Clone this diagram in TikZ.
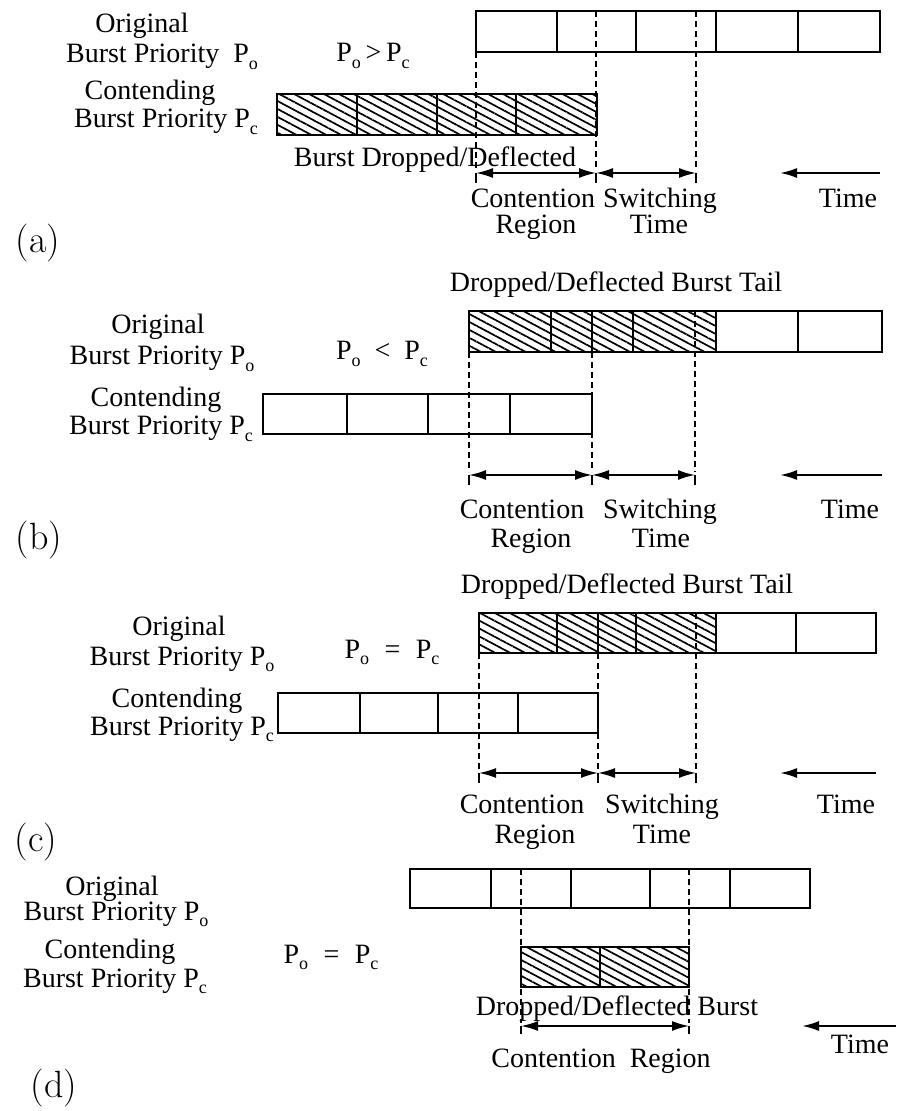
\documentclass[tikz,border=0pt]{standalone}
\usepackage{fontspec}
\newfontfamily\tms{Liberation Serif}
\usetikzlibrary{arrows.meta,patterns.meta}
\newcommand{\Pri}[1]{P\raisebox{-.5ex}{\fontsize{9}{9}\selectfont #1}}
\tikzset{
  bar/.style={draw,line width=1pt},
  cell/.style={line width=.8pt},
  hatched/.style={pattern={Lines[angle=-28,distance=3.5pt,line width=.85pt]}},
  cut/.style={line width=.9pt,dash pattern=on 3pt off 2pt},
  span/.style={{Latex[length=8.5pt,width=5pt]}-{Latex[length=8.5pt,width=5pt]},line width=.8pt},
  tick/.style={line width=.8pt},
  timeline/.style={{Latex[length=8.5pt,width=5pt]}-,line width=1pt},
  txt/.style={font=\tms\fontsize{14}{15}\selectfont,inner sep=0pt,anchor=base},
  tag/.style={font=\fontsize{19}{22}\selectfont,inner sep=0pt}
}
\begin{document}
\begin{tikzpicture}[x=.5pt,y=-.5pt]
\useasboundingbox (0,0) rectangle (896,1111);
% (a)
\node[txt] (a-orig) at (142,33) {Original};
\node[txt] (a-po) at (162,63) {Burst Priority\ \ \Pri{o}};
\node[txt] (a-cont) at (150,100) {Contending};
\node[txt] (a-pc) at (166,128) {Burst Priority \Pri{c}};
\node[txt] (a-rel) at (373,62) {\Pri{o}\,>\,\Pri{c}};
\node[txt] (a-drop) at (435,167) {Burst Dropped/Deflected};
\node[txt] (a-cr1) at (533,208) {Contention};
\node[txt] (a-cr2) at (536,234) {Region};
\node[txt] (a-sw1) at (660,208) {Switching};
\node[txt] (a-sw2) at (659,234) {Time};
\node[txt] (a-time) at (848,208) {Time};
\node[tag] (a-tag) at (38,243) {(a)};
\draw[bar] (476,11) rectangle (880,52);
\foreach \x in {557,636,716,798}
  \draw[cell] (\x,11) -- (\x,52);
\draw[bar,hatched] (277,94) rectangle (597,135);
\foreach \x in {357,437,516}
  \draw[cell] (\x,94) -- (\x,135);
\draw[cut] (476,52) -- (476,170) (596,11) -- (596,170) (696,11) -- (696,170);
\coordinate (a-l) at (476,173);
\coordinate (a-m) at (596,173);
\coordinate (a-r) at (696,173);
\coordinate (a-t0) at (880,173);
\coordinate (a-t1) at (780,173);
\draw[span] (a-l) -- (a-m);
\draw[span] (a-m) -- (a-r);
\foreach \p in {a-l,a-m,a-r}
  \draw[tick] (\p) -- ++(0,10);
\draw[timeline] (a-t1) -- (a-t0);
% (b)
\node[txt] (b-orig) at (158,334) {Original};
\node[txt] (b-po) at (162,365) {Burst Priority \Pri{o}};
\node[txt] (b-cont) at (156,407) {Contending};
\node[txt] (b-pc) at (161,435) {Burst Priority \Pri{c}};
\node[txt] (b-rel) at (382,360) {\Pri{o}\hspace{.5em}<\hspace{.5em}\Pri{c}};
\node[txt] (b-drop) at (616,292) {Dropped/Deflected Burst Tail};
\node[txt] (b-cr1) at (522,518) {Contention};
\node[txt] (b-cr2) at (531,547) {Region};
\node[txt] (b-sw1) at (660,518) {Switching};
\node[txt] (b-sw2) at (661,547) {Time};
\node[txt] (b-time) at (850,518) {Time};
\node[tag] (b-tag) at (39,540) {(b)};
\draw[bar,hatched] (469,311) rectangle (716,352);
\draw[bar] (716,311) rectangle (882,352);
\foreach \x in {551,592,633,798}
  \draw[cell] (\x,311) -- (\x,352);
\draw[bar] (263,394) rectangle (592,434);
\foreach \x in {347,428,510}
  \draw[cell] (\x,394) -- (\x,434);
\draw[cut] (469,352) -- (469,472) (592,352) -- (592,472) (695,311) -- (695,472);
\coordinate (b-l) at (469,475);
\coordinate (b-m) at (592,475);
\coordinate (b-r) at (695,475);
\coordinate (b-t0) at (882,475);
\coordinate (b-t1) at (780,475);
\draw[span] (b-l) -- (b-m);
\draw[span] (b-m) -- (b-r);
\foreach \p in {b-l,b-m,b-r}
  \draw[tick] (\p) -- ++(0,10);
\draw[timeline] (b-t1) -- (b-t0);
% (c)
\node[txt] (c-orig) at (179,635) {Original};
\node[txt] (c-po) at (182,665) {Burst Priority \Pri{o}};
\node[txt] (c-cont) at (177,707) {Contending};
\node[txt] (c-pc) at (182,735) {Burst Priority \Pri{c}};
\node[txt] (c-rel) at (392,658) {\Pri{o}\hspace{.55em}=\hspace{.55em}\Pri{c}};
\node[txt] (c-drop) at (627,593) {Dropped/Deflected Burst Tail};
\node[txt] (c-cr1) at (522,813) {Contention};
\node[txt] (c-cr2) at (535,843) {Region};
\node[txt] (c-sw1) at (662,813) {Switching};
\node[txt] (c-sw2) at (662,843) {Time};
\node[txt] (c-time) at (846,813) {Time};
\node[tag] (c-tag) at (36,842) {(c)};
\draw[bar,hatched] (479,613) rectangle (716,653);
\draw[bar] (716,613) rectangle (876,653);
\foreach \x in {557,598,636,796}
  \draw[cell] (\x,613) -- (\x,653);
\draw[bar] (278,693) rectangle (598,733);
\foreach \x in {360,438,518}
  \draw[cell] (\x,693) -- (\x,733);
\draw[cut] (479,653) -- (479,770) (598,653) -- (598,770) (696,613) -- (696,770);
\coordinate (c-l) at (479,773);
\coordinate (c-m) at (598,773);
\coordinate (c-r) at (696,773);
\coordinate (c-t0) at (876,773);
\coordinate (c-t1) at (780,773);
\draw[span] (c-l) -- (c-m);
\draw[span] (c-m) -- (c-r);
\foreach \p in {c-l,c-m,c-r}
  \draw[tick] (\p) -- ++(0,10);
\draw[timeline] (c-t1) -- (c-t0);
% (d)
\node[txt] (d-orig) at (112,895) {Original};
\node[txt] (d-po) at (116,920) {Burst Priority \Pri{o}};
\node[txt] (d-cont) at (110,958) {Contending};
\node[txt] (d-pc) at (115,987) {Burst Priority \Pri{c}};
\node[txt] (d-rel) at (331,963) {\Pri{o}\hspace{.55em}=\hspace{.55em}\Pri{c}};
\node[txt] (d-drop) at (617,1015) {Dropped/Deflected Burst};
\node[txt] (d-cr) at (601,1067) {Contention\hspace{.5em}Region};
\node[txt] (d-time) at (860,1053) {Time};
\node[tag] (d-tag) at (54,1088) {(d)};
\draw[bar] (410,869) rectangle (810,908);
\foreach \x in {491,571,650,730}
  \draw[cell] (\x,869) -- (\x,908);
\draw[bar,hatched] (521,947) rectangle (689,987);
\draw[cell] (600,947) -- (600,987);
\draw[cut] (521,869) -- (521,1023) (689,869) -- (689,1023);
\coordinate (d-l) at (521,1026);
\coordinate (d-r) at (689,1026);
\coordinate (d-t0) at (896,1026);
\coordinate (d-t1) at (802,1026);
\draw[span] (d-l) -- (d-r);
\foreach \p in {d-l,d-r}
  \draw[tick] (\p) -- ++(0,8);
\draw[timeline] (d-t1) -- (d-t0);
\end{tikzpicture}
\end{document}
